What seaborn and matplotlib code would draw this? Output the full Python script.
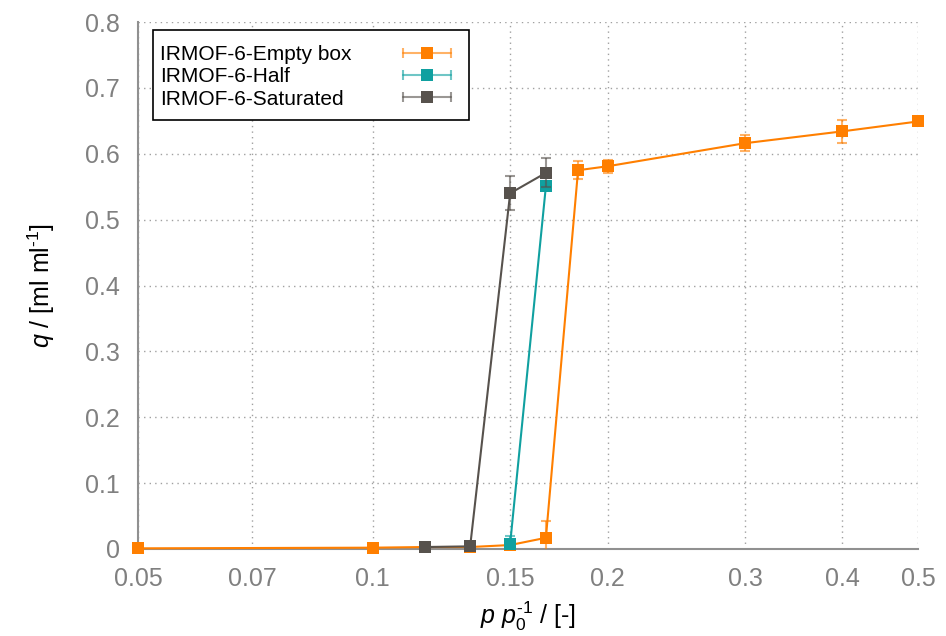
import matplotlib
matplotlib.use("Agg")
import matplotlib.pyplot as plt
import seaborn as sns
import pandas as pd
from matplotlib.lines import Line2D
from matplotlib.patches import Rectangle
from matplotlib.legend_handler import HandlerLine2D, HandlerTuple

# ---- data ----
empty_x = [0.05, 0.1, 0.1167, 0.1333, 0.15, 0.1667, 0.1833, 0.2, 0.3, 0.4, 0.5]
empty_y = [0.001, 0.002, 0.003, 0.003, 0.006, 0.017, 0.575, 0.581, 0.616, 0.634, 0.649]
empty_err = [0.0, 0.0, 0.0, 0.0, 0.0, 0.025, 0.014, 0.010, 0.012, 0.017, 0.003]

half_x = [0.15, 0.1667]
half_y = [0.008, 0.551]
half_err = [0.011, 0.004]

sat_x = [0.1167, 0.1333, 0.15, 0.1667]
sat_y = [0.003, 0.004, 0.540, 0.571]
sat_err = [0.0, 0.0, 0.026, 0.022]

series_names = ["IRMOF-6-Empty box", "IRMOF-6-Half", "IRMOF-6-Saturated"]
colors = ["#ff7f00", "#10a0a0", "#57524d"]

x_ticks = [0.05, 0.07, 0.1, 0.15, 0.2, 0.3, 0.4, 0.5]
x_tick_labels = ["0.05", "0.07", "0.1", "0.15", "0.2", "0.3", "0.4", "0.5"]
y_ticks = [0, 0.1, 0.2, 0.3, 0.4, 0.5, 0.6, 0.7, 0.8]
y_tick_labels = ["0", "0.1", "0.2", "0.3", "0.4", "0.5", "0.6", "0.7", "0.8"]

# ---- style ----
sns.set_theme(style="white")
plt.rcParams["font.family"] = ["Liberation Sans", "DejaVu Sans"]
plt.rcParams["mathtext.fontset"] = "custom"
plt.rcParams["mathtext.rm"] = "Liberation Sans"
plt.rcParams["mathtext.it"] = "Liberation Sans:italic"

xs = [empty_x, half_x, sat_x]
ys = [empty_y, half_y, sat_y]
errs = [empty_err, half_err, sat_err]

frames = []
for name, x, y in zip(series_names, xs, ys):
    frames.append(pd.DataFrame({"p": x, "q": y, "series": name}))
df = pd.concat(frames, ignore_index=True)

W, H = 946, 636
fig = plt.figure(figsize=(W / 100, H / 100), dpi=100)
ax = fig.add_axes([138 / W, 1 - 549 / H, (918 - 138) / W, (549 - 22) / H])

sns.lineplot(data=df, x="p", y="q", hue="series", style="series",
             hue_order=series_names, style_order=series_names,
             palette=colors, markers=["s", "s", "s"], dashes=False,
             markersize=8, markeredgewidth=0, linewidth=1.5,
             sort=True, legend=False, ax=ax)

for i, line in enumerate(ax.lines[:3]):
    line.set_zorder(3 + i)
    line.set_clip_on(False)

for i, (x, y, e, c) in enumerate(zip(xs, ys, errs, colors)):
    ax.errorbar(x, y, yerr=e, fmt="none", ecolor=c, alpha=0.6,
                elinewidth=1.5, capsize=3.5, capthick=1.5, zorder=3.5 + i)

ax.set_xscale("log")
ax.set_xlim(0.05, 0.5)
ax.set_ylim(0, 0.8)
ax.set_xticks(x_ticks)
ax.set_xticklabels(x_tick_labels)
ax.xaxis.set_minor_locator(matplotlib.ticker.NullLocator())
ax.set_yticks(y_ticks)
ax.set_yticklabels(y_tick_labels)

ax.grid(True, which="major", linestyle=(0, (1, 3)), color="#a0a0a0", linewidth=1)
for s in ["top", "right"]:
    ax.spines[s].set_visible(False)
for s in ["left", "bottom"]:
    ax.spines[s].set_color("#909090")
    ax.spines[s].set_linewidth(1.5)

ax.tick_params(axis="both", direction="in", length=5, width=1, color="#909090",
               labelcolor="#808080", labelsize=18)
ax.tick_params(axis="x", pad=13)
ax.tick_params(axis="y", pad=13)

ax.set_xlabel(r"$p\ p_0^{\text{-1}}$ / [-]", fontsize=18, color="black", labelpad=6)
ax.set_ylabel(r"$q$ / [ml ml$^{\text{-1}}$]", fontsize=18, color="black", labelpad=20)

# ---- legend: frame box, text column, and errorbar-like handles on the right ----
anchor_top = 1 - 45 / H

blank = Line2D([], [], ls="none", marker="none")
leg_text = ax.legend([blank] * 3, series_names, loc="upper left",
                     bbox_to_anchor=(160 / W, anchor_top), bbox_transform=fig.transFigure,
                     fontsize=15, frameon=False, handlelength=0, handletextpad=0,
                     labelspacing=0.16, borderpad=0, borderaxespad=0)
for t in leg_text.get_texts():
    t.set_color("black")
leg_text.set_zorder(11)
ax.add_artist(leg_text)

handles = []
hmap = {}
for c in colors:
    cap = Line2D([], [], color=c, alpha=0.6, lw=1.5, marker="|", markersize=7,
                 markeredgewidth=1.5)
    sq = Line2D([], [], color=c, ls="none", marker="s", markersize=8, markeredgewidth=0)
    hmap[cap] = HandlerLine2D(numpoints=2)
    hmap[sq] = HandlerLine2D(numpoints=1)
    handles.append((cap, sq))
hmap[tuple] = HandlerTuple(ndivide=1, pad=0)

leg_h = ax.legend(handles, series_names, handler_map=hmap, loc="upper left",
                  bbox_to_anchor=(397 / W, anchor_top), bbox_transform=fig.transFigure,
                  fontsize=15, frameon=False, handlelength=2.9, handletextpad=0,
                  labelspacing=0.16, borderpad=0, borderaxespad=0)
for t in leg_h.get_texts():
    t.set_color("none")
leg_h.set_zorder(11)

box = Rectangle((153 / W, 1 - 120 / H), (469 - 153) / W, (120 - 30) / H,
                transform=fig.transFigure, facecolor="white", edgecolor="black",
                linewidth=1.2, zorder=10, clip_on=False)
ax.add_patch(box)

fig.savefig("out.png", dpi=100)
